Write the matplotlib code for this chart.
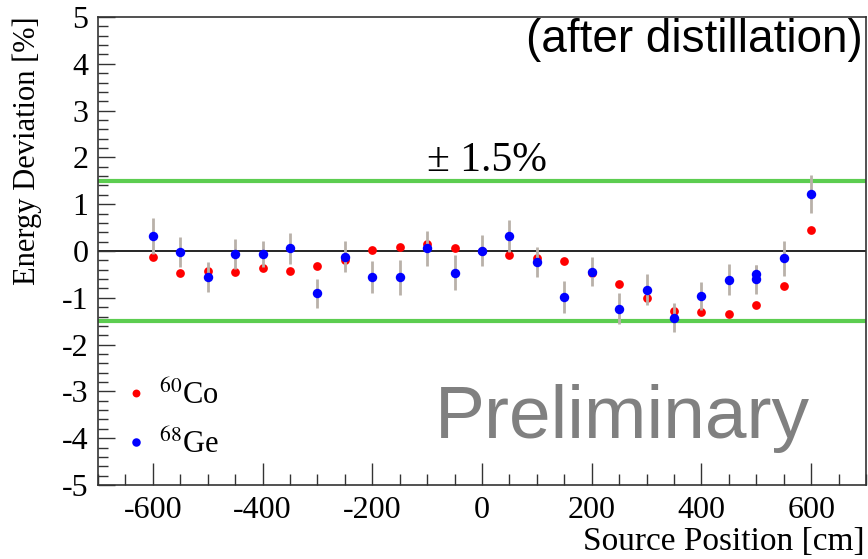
import matplotlib
matplotlib.use('Agg')
import matplotlib.pyplot as plt
import numpy as np
from matplotlib.ticker import MultipleLocator

# source positions [cm]
positions = [-600, -550, -500, -450, -400, -350, -300, -250, -200, -150, -100, -50,
             0, 50, 100, 150, 200, 250, 300, 350, 400, 450, 500, 550, 600]

# 60Co energy deviation [%]
co_dev = [-0.12, -0.46, -0.43, -0.44, -0.37, -0.43, -0.33, -0.19, 0.02, 0.08, 0.16, 0.06,
          0.00, -0.09, -0.16, -0.21, -0.46, -0.71, -1.00, -1.29, -1.30, -1.35, -1.15, -0.75, 0.44]

# 68Ge energy deviation [%] (two measurements at 500 cm)
ge_pos = positions + [500]
ge_dev = [0.32, -0.02, -0.55, -0.06, -0.07, 0.06, -0.90, -0.12, -0.55, -0.56, 0.06, -0.46,
          0.01, 0.32, -0.23, -0.98, -0.44, -1.23, -0.83, -1.43, -0.97, -0.61, -0.60, -0.16, 1.22,
          -0.49]
ge_err = [0.39, 0.32, 0.32, 0.32, 0.28, 0.33, 0.31, 0.33, 0.34, 0.37, 0.37, 0.37,
          0.33, 0.34, 0.32, 0.34, 0.31, 0.33, 0.33, 0.31, 0.30, 0.33, 0.31, 0.38, 0.40,
          0.20]

band = 1.5

plt.rcParams['font.family'] = ['Liberation Serif', 'DejaVu Serif']
plt.rcParams['mathtext.fontset'] = 'stix'
plt.rcParams['axes.unicode_minus'] = False

W, H = 868, 559
fig = plt.figure(figsize=(W / 100, H / 100), dpi=100)
ax = fig.add_axes([98 / W, 1 - 485 / H, (866 - 98) / W, (485 - 17) / H])

ax.axhline(0, color='k', lw=1.2, zorder=1)
ax.axhline(band, color='#5ccd50', lw=3.0, zorder=1)
ax.axhline(-band, color='#5ccd50', lw=3.0, zorder=1)

l_co, = ax.plot(positions, co_dev, 'o', color='#ff0000', ms=6.3, mec='none', zorder=3,
                label='$^{60}$Co')
ax.errorbar(ge_pos, ge_dev, yerr=ge_err, fmt='none', ecolor='#b9b1a9', elinewidth=2.0,
            capsize=0, zorder=4)
l_ge, = ax.plot(ge_pos, ge_dev, 'o', color='#0000ff', ms=6.8, mec='none', zorder=5,
                label='$^{68}$Ge')

ax.set_xlim(-700, 700)
ax.set_ylim(-5, 5)
ax.xaxis.set_major_locator(MultipleLocator(200))
ax.xaxis.set_minor_locator(MultipleLocator(50))
ax.yaxis.set_major_locator(MultipleLocator(1))
ax.yaxis.set_minor_locator(MultipleLocator(0.2))
ax.tick_params(axis='both', which='both', direction='in', top=False, right=False,
               labelsize=23, width=1.0, color='#333333')
ax.tick_params(axis='x', which='major', length=16, pad=8)
ax.tick_params(axis='x', which='minor', length=8)
ax.tick_params(axis='y', which='major', length=12, pad=7)
ax.tick_params(axis='y', which='minor', length=7)
for s in ax.spines.values():
    s.set_linewidth(1.2)
    s.set_color('#333333')

fig.text(865 / W, 1 - 550 / H, 'Source Position [cm]', ha='right', va='baseline', fontsize=24)
fig.text(27 / W, 1 - 16 / H, 'Energy Deviation [%]', ha='center', va='top', rotation=90,
         fontsize=22)

ax.text(0.428, (band + 5 + 0.22) / 10, '± 1.5%', ha='left', va='baseline', fontsize=30,
        transform=ax.transAxes)
ax.text(0.996, 0.925, '(after distillation)', ha='right', va='baseline', fontsize=33,
        family='Liberation Sans', transform=ax.transAxes)
ax.text(0.927, 0.10, 'Preliminary', ha='right', va='baseline', fontsize=54,
        family='Liberation Sans', color='#808080', transform=ax.transAxes)

ax.legend(handles=[l_co, l_ge], loc='lower left', bbox_to_anchor=(113 / W, 1 - 472 / H),
          bbox_transform=fig.transFigure, frameon=False, fontsize=22, markerscale=0.9,
          handlelength=0.7, handletextpad=0.4, labelspacing=0.6, borderaxespad=0)

fig.savefig('out.png', dpi=100)
